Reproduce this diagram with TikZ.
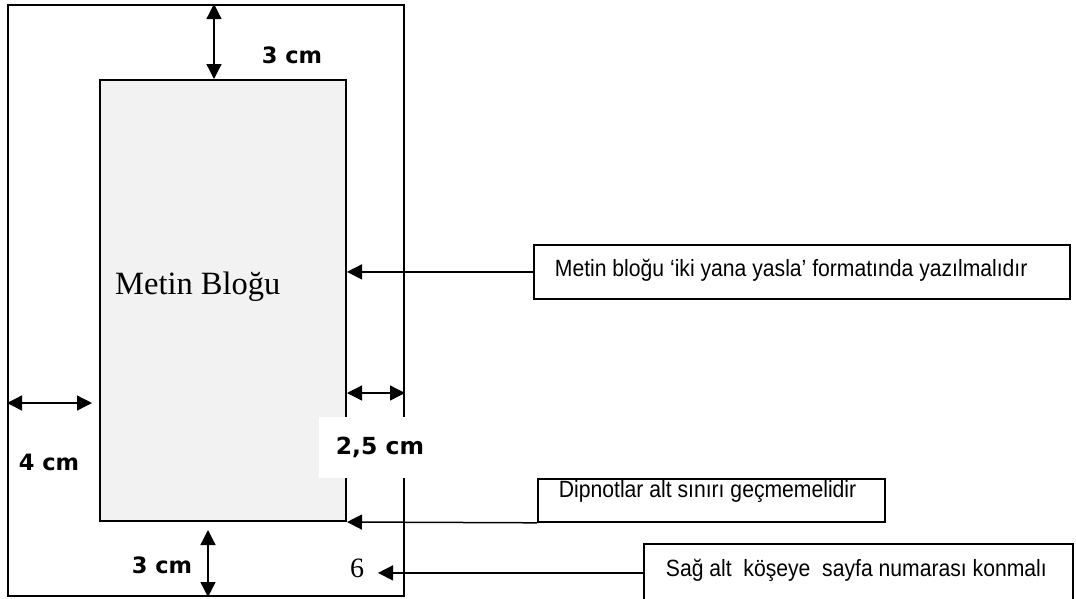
\documentclass[tikz,border=0pt]{standalone}
\usepackage{fontspec}
\setmainfont{Liberation Serif}
\newfontfamily\notefont[FakeStretch=0.9]{Liberation Sans}
\newfontfamily\cmfont{DejaVu Sans}
\usetikzlibrary{arrows.meta}

\tikzset{
  frame/.style={draw, line width=2pt, inner sep=0pt},
  dimlabel/.style={font=\cmfont\bfseries\fontsize{22.5}{26}\selectfont},
  notebox/.style={draw, line width=1.8pt, inner xsep=21pt, inner ysep=0pt, anchor=north west,
    font=\notefont\fontsize{23.5}{26}\selectfont},
  dimarrow/.style={{Triangle[length=15pt,width=15pt]}-{Triangle[length=15pt,width=15pt]}, line width=1.3pt},
  notearrow/.style={-{Triangle[length=15pt,width=15pt]}, line width=1.5pt},
}

\begin{document}
\begin{tikzpicture}[x=1pt,y=-1pt]
\useasboundingbox (0,0) rectangle (1076,598);

% page and text block
\node[frame, minimum width=396pt, minimum height=591pt] (page) at (206,300.5) {};
\node[frame, fill=black!5, minimum width=246pt, minimum height=441pt] (block) at (223,300.5) {};
\node[font=\fontsize{32.5}{36}\selectfont, anchor=west, inner sep=0pt] (blocktext) at (115,287) {Metin Bloğu};

% margins
\coordinate (topx) at (214,0);
\draw[dimarrow] (page.north -| topx) -- (block.north -| topx);
\node[dimlabel] (topcm) at (292,55) {3 cm};

\coordinate (botx) at (208,530);
\draw[dimarrow] (botx) -- (botx |- page.south);
\node[dimlabel] (botcm) at (162,565) {3 cm};

\coordinate (leftx) at (92,403);
\draw[dimarrow] (page.west |- leftx) -- (leftx);
\node[dimlabel] (leftcm) at (49,462) {4 cm};

\coordinate (rightx) at (0,393);
\draw[dimarrow] (block.east |- rightx) -- (page.east |- rightx);
\node[dimlabel, font=\cmfont\bfseries\fontsize{23.5}{26}\selectfont, fill=white, minimum width=122pt,
  minimum height=61pt, inner sep=0pt] (rightcm) at (380,447.5) {2,5 cm};

% page number
\node[font=\fontsize{28}{30}\selectfont, inner sep=0pt] (pnum) at (357,568) {6};

% notes
\node[notebox, text height=32pt, text depth=22pt] (note1) at (533,244)
  {\makebox[494pt][l]{Metin bloğu ‘iki yana yasla’ formatında yazılmalıdır}};
\node[notebox, text height=19pt, text depth=24pt] (note2) at (537,478)
  {\makebox[305pt][l]{Dipnotlar alt sınırı geçmemelidir}};
\node[notebox, inner xsep=22pt, text height=33pt, text depth=25pt] (note3) at (643,543)
  {\makebox[385pt][l]{Sağ alt\ \ köşeye\ \ sayfa numarası konmalı}};

\coordinate (tip3) at (378,0);
\draw[notearrow] (note1.west) -- (block.east |- note1.west);
\draw[notearrow] (note2.south west) -- (block.south east);
\draw[notearrow] (note3.west) -- (note3.west -| tip3);
\end{tikzpicture}
\end{document}
